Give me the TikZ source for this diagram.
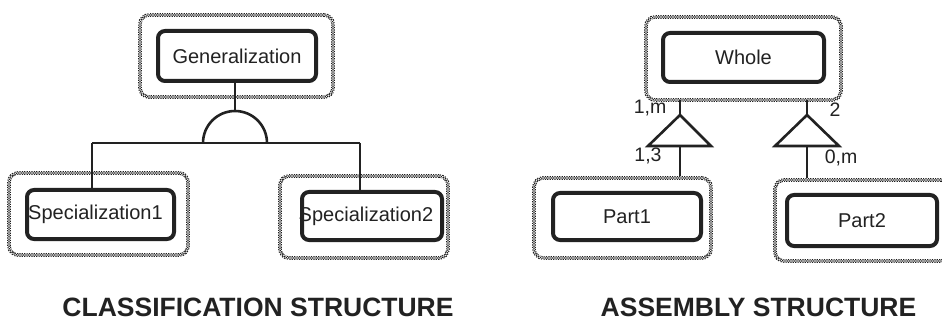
\documentclass[tikz,border=0pt]{standalone}
\usepackage{fontspec}
\setmainfont{Liberation Sans}
\definecolor{ink}{HTML}{222222}
\definecolor{dots}{HTML}{1E1E1E}
\begin{document}
\begin{tikzpicture}[x=1pt,y=-1pt,
  inner/.style={draw=ink, line width=4pt, rounded corners=7pt, inner sep=0pt,
    text=ink, font=\fontsize{20}{23}\selectfont},
  dotbox/.style={draw=dots, line width=3.6pt, rounded corners=9pt, inner sep=0pt,
    dash pattern=on 1.2pt off 1.2pt,
    postaction={draw=white, line width=1.2pt, solid},
    postaction={draw=dots, line width=1.2pt, dash pattern=on 1.2pt off 1.2pt, dash phase=1.2pt}},
  conn/.style={draw=ink, line width=2.3pt},
  lbl/.style={text=ink, font=\fontsize{19.5}{22}\selectfont, inner sep=0pt},
  ttl/.style={text=ink, font=\fontsize{26.5}{30}\selectfont\bfseries, inner sep=0pt, anchor=base}]
\useasboundingbox (0,0) rectangle (942,323);
\clip (0,0) rectangle (942,323);
\fill[white] (0,0) rectangle (942,323);

% ---------- classification structure ----------
\node[dotbox, minimum width=193pt, minimum height=82pt] (genO) at (236.5,56) {};
\node[dotbox, minimum width=179pt, minimum height=82pt] (spec1O) at (98.5,214) {};
\node[dotbox, minimum width=168pt, minimum height=82pt] (spec2O) at (364,217) {};

\coordinate (arcTop) at (235,111);
\coordinate (arcL) at (203,143);
\coordinate (hL) at (92,143);
\coordinate (hR) at (360,143);

\draw[conn] (235,81) -- (arcTop);
\draw[conn, line width=2.6pt] (arcL) arc[start angle=180, end angle=0, radius=32pt];
\draw[conn] (hL) -- (hR);
\draw[conn] (hL) -- (hL |- 0,190);
\draw[conn] (hR) -- (hR |- 0,192);

\node[inner, minimum width=158pt, minimum height=50pt] (gen) at (237,56) {Generalization};
\node[inner, minimum width=147pt, minimum height=49pt] (spec1) at (100.5,214.5) {\hspace*{-10pt}Specialization1};
\node[inner, minimum width=140pt, minimum height=48pt] (spec2) at (372,216) {\hspace*{-12pt}Specialization2};

\node[ttl] (t1) at (258,316) {CLASSIFICATION STRUCTURE};

% ---------- assembly structure ----------
\node[dotbox, minimum width=195pt, minimum height=83pt] (wholeO) at (743.5,58.5) {};
\node[dotbox, minimum width=177pt, minimum height=80pt] (part1O) at (622.5,218) {};
\node[dotbox, minimum width=175pt, minimum height=81pt] (part2O) at (862.5,220.5) {};

\node[inner, minimum width=161pt, minimum height=49pt] (whole) at (743.5,57.5) {Whole};
\node[inner, minimum width=148pt, minimum height=47pt] (part1) at (627,216.5) {Part1};
\node[inner, minimum width=150pt, minimum height=51pt] (part2) at (862,220.5) {Part2};

\coordinate (ap1) at (680,115);
\coordinate (bl1) at (648,146);
\coordinate (br1) at (711,146);
\coordinate (bm1) at (680,146);
\coordinate (ap2) at (807,115);
\coordinate (bl2) at (775,146);
\coordinate (br2) at (839,146);
\coordinate (bm2) at (807,146);

\draw[conn] (ap1 |- 0,100) -- (ap1);
\draw[conn, line width=2.6pt, line join=miter] (ap1) -- (bl1) -- (br1) -- cycle;
\draw[conn] (bm1) -- (bm1 |- part1O.north);
\draw[conn] (ap2 |- 0,100) -- (ap2);
\draw[conn, line width=2.6pt, line join=miter] (ap2) -- (bl2) -- (br2) -- cycle;
\draw[conn] (bm2) -- (bm2 |- part2O.north);

\node[lbl] (m1) at (650,108) {1,m};
\node[lbl] (m2) at (835,110) {2};
\node[lbl] (m3) at (648,156) {1,3};
\node[lbl] (m4) at (841,158) {0,m};

\node[ttl] (t2) at (758.5,316) {ASSEMBLY STRUCTURE};
\end{tikzpicture}
\end{document}
